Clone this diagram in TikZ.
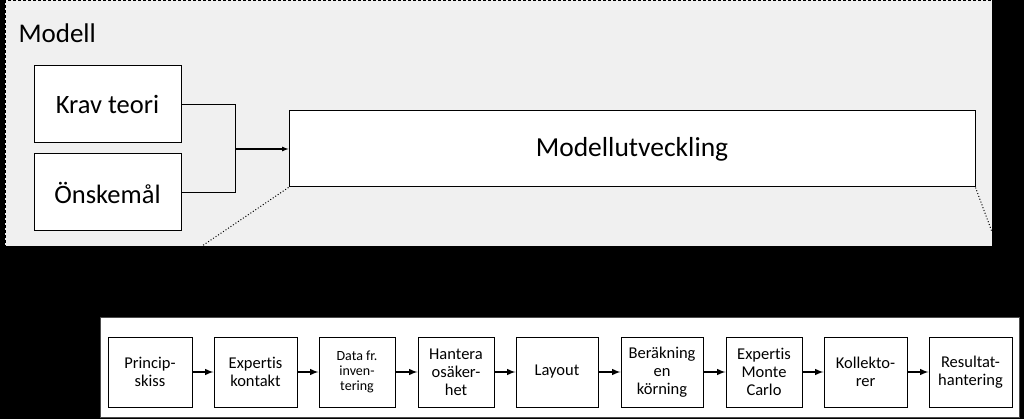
\documentclass[tikz,border=0pt]{standalone}
\usepackage{fontspec}
\setmainfont[Ligatures=NoCommon]{Carlito}
\usetikzlibrary{shapes,arrows}
\usetikzlibrary{shapes.geometric,positioning}

\begin{document}
\begin{tikzpicture}[x=1pt,y=-1pt,
        bigbox/.style={draw=black, fill=white, line width=1pt, minimum height=77pt, font=\fontsize{26.5}{30}\selectfont},
        flowbox/.style={draw=black, fill=white, line width=1pt, minimum height=70pt, align=center, inner sep=0pt, font=\fontsize{16.5}{18}\selectfont},
        flowarrow/.style={-latex, line width=1.9pt}]
        \useasboundingbox (0,0) rectangle (1024,419);
        \fill[black] (0,0) rectangle (1024,419);
        % upper part
        \draw[fill=black!6, draw=black, dash pattern=on 3pt off 2pt] (5,0) rectangle (992,246);
        \node (modell) [anchor=base west, font=\fontsize{27}{30}\selectfont] at (15,43) {Modell};
        \node (krav) [bigbox, minimum width=147pt] at (107.5,104.5) {Krav teori};
        \node (onske) [bigbox, minimum width=147pt] at (107.5,192.5) {Önskemål};
        \node (modut) [bigbox, minimum width=686pt, minimum height=76pt, font=\fontsize{27.5}{30}\selectfont] at (632,149) {Modellutveckling};
        \coordinate (join) at (235,149);
        \draw[line width=1pt] (krav.east) -| (join);
        \draw[line width=1pt] (onske.east) -| (join);
        \draw[-latex, line width=1.2pt] (join) -- (modut.west);
        \coordinate (zoomleft) at (202,246);
        \coordinate (zoomright) at (992,232);
        \draw[dotted, line width=1pt] (modut.south west) -- (zoomleft);
        \draw[dotted, line width=1pt] (modut.south east) -- (zoomright);
        % lower part
        \draw[fill=white, draw=black!70] (100,317) rectangle (1019,417);
        \node (p1) [flowbox, minimum width=84pt] at (150,372) {Princip-\\skiss};
        \node (p2) [flowbox, minimum width=83pt, right=21pt of p1] {Expertis\\kontakt};
        \node (p3) [flowbox, minimum width=76pt, right=21pt of p2, font=\fontsize{14}{15}\selectfont] {Data fr.\\inven-\\tering};
        \node (p4) [flowbox, minimum width=76pt, right=22pt of p3] {Hantera\\osäker-\\het};
        \node (p5) [flowbox, minimum width=82pt, right=21pt of p4] {Layout};
        \node (p6) [flowbox, minimum width=82pt, right=22pt of p5] {Beräkning\\en\\körning};
        \node (p7) [flowbox, minimum width=76pt, right=22pt of p6] {Expertis\\Monte\\Carlo};
        \node (p8) [flowbox, minimum width=83pt, right=21pt of p7] {Kollekto-\\rer};
        \node (p9) [flowbox, minimum width=83pt, right=21pt of p8] {Resultat-\\hantering};
        \draw[flowarrow] (p1) -- (p2);
        \draw[flowarrow] (p2) -- (p3);
        \draw[flowarrow] (p3) -- (p4);
        \draw[flowarrow] (p4) -- (p5);
        \draw[flowarrow] (p5) -- (p6);
        \draw[flowarrow] (p6) -- (p7);
        \draw[flowarrow] (p7) -- (p8);
        \draw[flowarrow] (p8) -- (p9);
    \end{tikzpicture}
\end{document}
